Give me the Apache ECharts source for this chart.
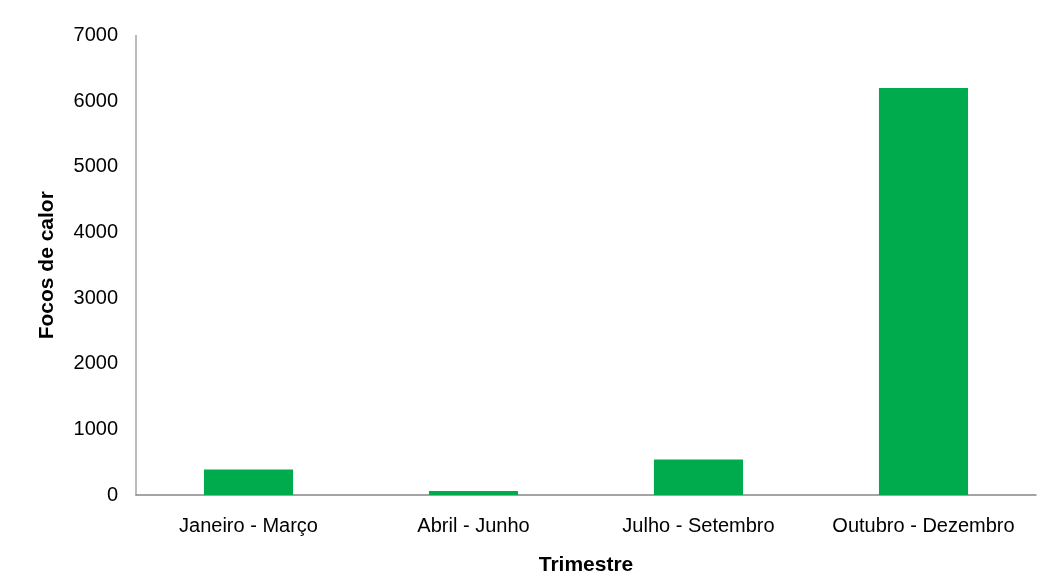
<!DOCTYPE html>
<html><head><meta charset="utf-8">
<script src="https://cdn.jsdelivr.net/npm/echarts@6/dist/echarts.min.js"></script>
<style>html,body{margin:0;padding:0;background:#fff;overflow:hidden}#c{width:1040px;height:576px}</style>
</head><body><div id="c"></div>
<script>
const categories = ['Janeiro - Março', 'Abril - Junho', 'Julho - Setembro', 'Outubro - Dezembro'];
const focos = [390, 60, 540, 6200];
const yTicks = { min: 0, max: 7000, interval: 1000 };

const chart = echarts.init(document.getElementById('c'), null, { renderer: 'canvas', width: 1040, height: 576 });
chart.setOption({
  animation: false,
  backgroundColor: '#ffffff',
  grid: { left: 136, right: 4, top: 35.5, bottom: 81, containLabel: false, outerBoundsMode: 'none' },
  xAxis: {
    type: 'category',
    data: categories,
    name: 'Trimestre',
    nameLocation: 'middle',
    nameGap: 60,
    nameTextStyle: { fontFamily: 'Liberation Sans', fontSize: 21, fontWeight: 'bold', color: '#000' },
    axisLine: { lineStyle: { color: '#868686', width: 1.5 } },
    axisTick: { show: false },
    axisLabel: { interval: 0, hideOverlap: false, fontFamily: 'Liberation Sans', fontSize: 20, color: '#000', margin: 21 }
  },
  yAxis: {
    type: 'value',
    min: yTicks.min, max: yTicks.max, interval: yTicks.interval,
    name: 'Focos de calor',
    nameLocation: 'middle',
    nameGap: 78,
    nameTextStyle: { fontFamily: 'Liberation Sans', fontSize: 21, fontWeight: 'bold', color: '#000' },
    axisLine: { show: true, lineStyle: { color: '#a6a6a6', width: 1.5 } },
    axisTick: { show: false },
    splitLine: { show: false },
    axisLabel: { fontFamily: 'Liberation Sans', fontSize: 20, color: '#000', margin: 18, formatter: v => String(v) }
  },
  series: [{
    type: 'bar',
    data: focos,
    barWidth: '39.6%',
    itemStyle: { color: '#00ab4e' }
  }]
});
</script></body></html>
